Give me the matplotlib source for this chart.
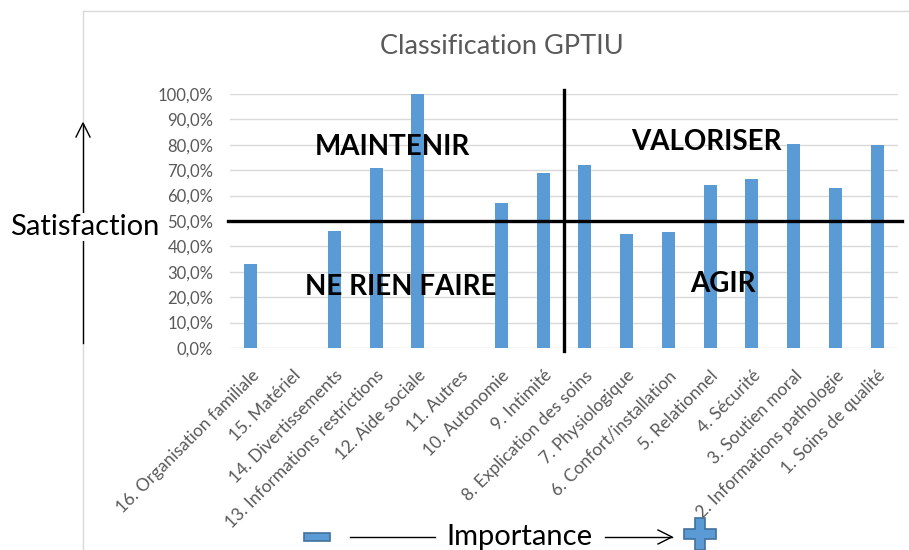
import matplotlib
matplotlib.use("Agg")
import matplotlib.pyplot as plt
from matplotlib.lines import Line2D
from matplotlib.patches import Rectangle, Polygon
from matplotlib.ticker import FuncFormatter

categories = [
    "16. Organisation familiale", "15. Matériel", "14. Divertissements",
    "13. Informations restrictions", "12. Aide sociale", "11. Autres",
    "10. Autonomie", "9. Intimité", "8. Explication des soins",
    "7. Physiologique", "6. Confort/installation", "5. Relationnel",
    "4. Sécurité", "3. Soutien moral", "2. Informations pathologie",
    "1. Soins de qualité",
]
satisfaction = [33.0, 0.0, 46.0, 71.0, 100.0, 0.0, 57.0, 69.0,
                72.0, 45.0, 45.5, 64.0, 66.5, 80.5, 63.0, 80.0]
quadrants = ["MAINTENIR", "VALORISER", "NE RIEN FAIRE", "AGIR"]

W, H = 909, 550
plt.rcParams['font.family'] = ['Lato', 'DejaVu Sans']

fig = plt.figure(figsize=(W / 100, H / 100), dpi=100)


def px(x, y):
    # pixel position (top-left origin) -> figure fraction
    return x / W, 1 - y / H


# chart frame
fig.add_artist(Line2D([83 / W, 83 / W], [0, 1 - 11 / H], color="#d9d9d9", lw=1))
fig.add_artist(Line2D([83 / W, 1], [1 - 11 / H, 1 - 11 / H], color="#d9d9d9", lw=1))

ax = fig.add_axes([230 / W, 1 - 348 / H, (898 - 230) / W, (348 - 94) / H])
x = range(len(categories))
ax.bar(x, satisfaction, width=0.31, color="#5b9bd5", zorder=2)

ax.set_xlim(-0.5, len(categories) - 0.5)
ax.set_ylim(0, 100)
ax.set_yticks(range(0, 101, 10))
ax.yaxis.set_major_formatter(FuncFormatter(lambda v, p: f"{v:.1f}%".replace(".", ",")))
ax.grid(axis="y", color="#d9d9d9", lw=1, zorder=0)
for s in ax.spines.values():
    s.set_visible(False)
ax.tick_params(axis="y", length=0, pad=12, labelsize=12, labelcolor="#595959")
ax.tick_params(axis="x", length=0, pad=14, labelsize=12.5, labelcolor="#595959")
ax.set_xticks(list(x))
ax.set_xticklabels(categories, rotation=45, ha="right", rotation_mode="anchor")

# quadrant separators
ax.plot([-0.55, 15.6], [50, 50], color="black", lw=2.4, clip_on=False, zorder=3)
ax.plot([7.5, 7.5], [-1, 101.5], color="black", lw=2.4, clip_on=False, zorder=3)

ax.text(3.4, 79, quadrants[0], fontsize=20, fontweight="bold", ha="center", va="center", zorder=4)
ax.text(10.9, 81, quadrants[1], fontsize=20, fontweight="bold", ha="center", va="center", zorder=4)
ax.text(3.6, 24, quadrants[2], fontsize=20, fontweight="bold", ha="center", va="center", zorder=4)
ax.text(11.3, 25, quadrants[3], fontsize=20, fontweight="bold", ha="center", va="center", zorder=4)

fig.text(*px(502, 47), "Classification GPTIU", fontsize=19.5, color="#595959",
         ha="center", va="center")

# vertical "Satisfaction" arrow
fig.add_artist(Line2D([83 / W, 83 / W], [1 - 343 / H, 1 - 125 / H], color="black", lw=1))
fig.add_artist(Line2D([76 / W, 83 / W, 90 / W], [1 - 137 / H, 1 - 123 / H, 1 - 137 / H],
                      color="black", lw=1))
fig.text(*px(85, 227), "Satisfaction", fontsize=21, color="black", ha="center", va="center",
         bbox=dict(facecolor="white", edgecolor="none", pad=1))

# horizontal "Importance" arrow with minus / plus signs
fig.add_artist(Rectangle(px(304, 541), 26 / W, 8 / H, facecolor="#5b9bd5",
                         edgecolor="#41719c", lw=1.2))
fig.add_artist(Line2D([350 / W, 435 / W], [1 - 537 / H, 1 - 537 / H], color="black", lw=1))
fig.text(*px(519, 537), "Importance", fontsize=21, color="black", ha="center", va="center")
fig.add_artist(Line2D([605 / W, 672 / W], [1 - 537 / H, 1 - 537 / H], color="black", lw=1))
fig.add_artist(Line2D([658 / W, 672 / W, 658 / W], [1 - 530 / H, 1 - 537 / H, 1 - 544 / H],
                      color="black", lw=1))
cx, cy, a, t = 700, 534, 16, 5
cross = [(cx - t, cy - a), (cx + t, cy - a), (cx + t, cy - t), (cx + a, cy - t),
         (cx + a, cy + t), (cx + t, cy + t), (cx + t, cy + a), (cx - t, cy + a),
         (cx - t, cy + t), (cx - a, cy + t), (cx - a, cy - t), (cx - t, cy - t)]
fig.add_artist(Polygon([px(u, v) for u, v in cross], closed=True, facecolor="#5b9bd5",
                       edgecolor="#41719c", lw=1.2))

fig.savefig("out.png", dpi=100)
